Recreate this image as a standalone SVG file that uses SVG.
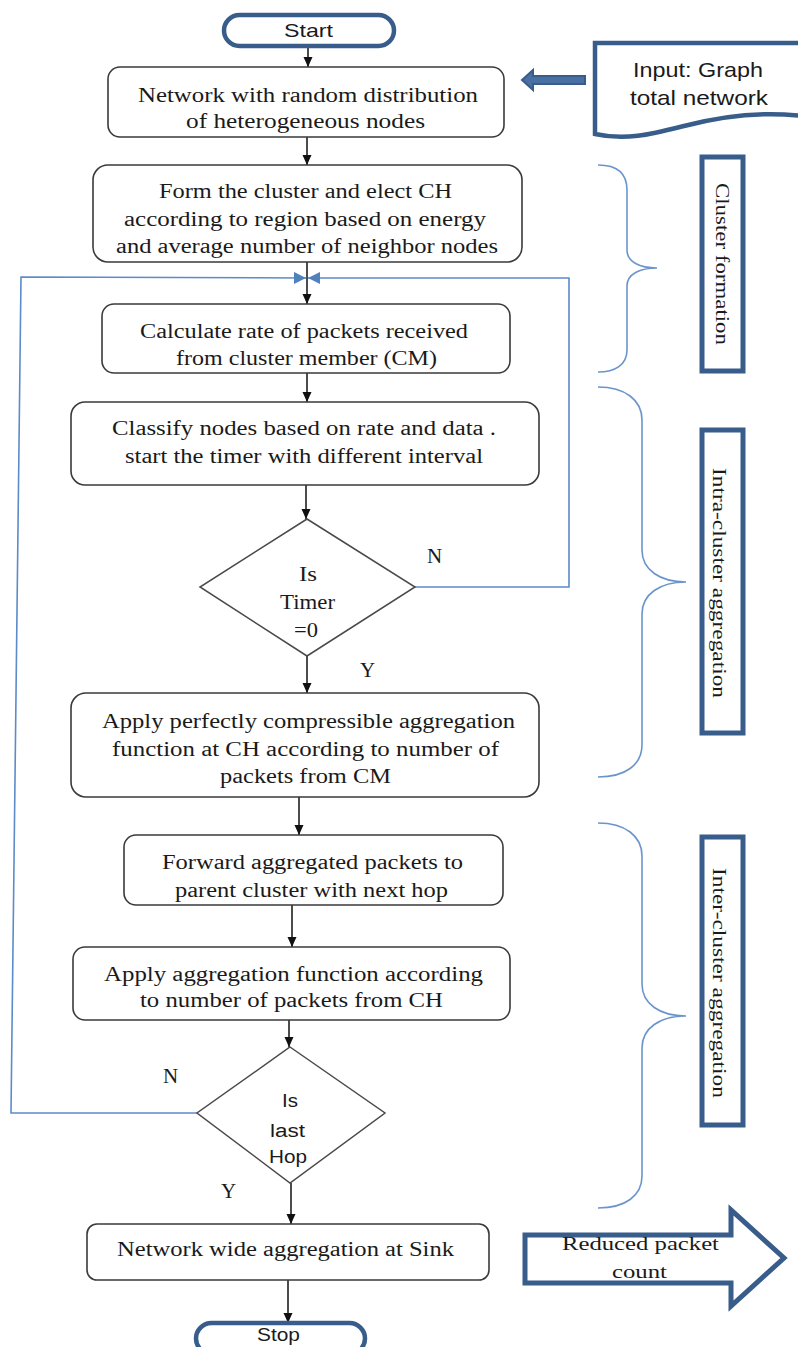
<svg xmlns="http://www.w3.org/2000/svg" width="798" height="1347" viewBox="0 0 798 1347">
<style>
.box{fill:#fff;stroke:#3a3a3a;stroke-width:1.6}
.dia{fill:#fff;stroke:#4a4a4a;stroke-width:1.5}
.term{fill:#fff;stroke:#385d8a;stroke-width:4.5}
.lbl{fill:#fff;stroke:#385d8a;stroke-width:5}
.serif{font-family:"Liberation Serif","Times New Roman",serif;font-size:20px;fill:#1a1a1a}
.sans{font-family:"Liberation Sans",Arial,sans-serif;fill:#1a1a1a}
.flow{fill:none;stroke:#111;stroke-width:1.5}
.loop{fill:none;stroke:#5b8bc9;stroke-width:1.6}
.brace{fill:none;stroke:#6a95cc;stroke-width:1.6}
</style>
<defs>
<marker id="ah" markerUnits="userSpaceOnUse" markerWidth="10" markerHeight="10" refX="10" refY="5" orient="auto" viewBox="0 0 10 10">
<path d="M0,0.5 L10,5 L0,9.5 z" fill="#111"/>
</marker>
<marker id="ahb" markerUnits="userSpaceOnUse" markerWidth="12" markerHeight="12" refX="12" refY="6" orient="auto" viewBox="0 0 12 12">
<path d="M0,0 L12,6 L0,12 z" fill="#4f81bd"/>
</marker>
</defs>
<rect width="798" height="1347" fill="#fff"/>

<g id="connectors">
<line class="flow" x1="308" y1="47" x2="308" y2="67" marker-end="url(#ah)"/>
<line class="flow" x1="307" y1="137" x2="307" y2="165" marker-end="url(#ah)"/>
<line class="flow" x1="307" y1="262" x2="307" y2="304" marker-end="url(#ah)"/>
<line class="flow" x1="307" y1="373" x2="307" y2="402" marker-end="url(#ah)"/>
<line class="flow" x1="306" y1="485" x2="306" y2="519" marker-end="url(#ah)"/>
<line class="flow" x1="307" y1="656" x2="307" y2="693" marker-end="url(#ah)"/>
<line class="flow" x1="299" y1="797" x2="299" y2="835" marker-end="url(#ah)"/>
<line class="flow" x1="292" y1="905" x2="292" y2="947" marker-end="url(#ah)"/>
<line class="flow" x1="289" y1="1020" x2="289" y2="1047" marker-end="url(#ah)"/>
<line class="flow" x1="291" y1="1183" x2="291" y2="1224" marker-end="url(#ah)"/>
<line class="flow" x1="288" y1="1280" x2="288" y2="1323" marker-end="url(#ah)"/>
<polyline class="loop" points="415,587 569,587 569,278 308,278" marker-end="url(#ahb)"/>
<polyline class="loop" points="197,1113 11,1113 21,277 306,278" marker-end="url(#ahb)"/>
<path d="M585,76 L533,76 L533,70 L522,80 L533,90 L533,84 L585,84 Z" fill="#4a6fa5" stroke="#385d8a" stroke-width="2"/>
<text class="serif" x="427" y="563" style="font-size:21px">N</text>
<text class="serif" x="360" y="677" style="font-size:21px">Y</text>
<text class="serif" x="163" y="1083" style="font-size:21px">N</text>
<text class="serif" x="221" y="1198" style="font-size:21px">Y</text>
</g>

<g id="n-start">
<rect class="term" x="224" y="15" width="170" height="31" rx="15.5"/>
<text class="sans" x="284" y="37" font-size="19" textLength="49" lengthAdjust="spacingAndGlyphs">Start</text>
</g>

<g id="n-network">
<rect class="box" x="108" y="67" width="396" height="70" rx="12"/>
<text class="serif" x="138" y="102" textLength="340" lengthAdjust="spacingAndGlyphs">Network with random distribution</text>
<text class="serif" x="186" y="128" textLength="239" lengthAdjust="spacingAndGlyphs">of heterogeneous nodes</text>
</g>

<g id="n-input">
<path d="M595,43 H802 V116 C760,111 722,116 684,126 C652,134 626,141 595,134 Z" fill="#fff" stroke="#385d8a" stroke-width="4.5"/>
<text class="sans" x="633" y="77" font-size="21" textLength="130" lengthAdjust="spacingAndGlyphs">Input: Graph</text>
<text class="sans" x="630" y="105" font-size="21" textLength="138" lengthAdjust="spacingAndGlyphs">total network</text>
</g>

<g id="n-form">
<rect class="box" x="93" y="165" width="429" height="97" rx="15"/>
<text class="serif" x="159" y="198" textLength="293" lengthAdjust="spacingAndGlyphs">Form the cluster and elect CH</text>
<text class="serif" x="124" y="226" textLength="362" lengthAdjust="spacingAndGlyphs">according to region  based on energy</text>
<text class="serif" x="116" y="253" textLength="382" lengthAdjust="spacingAndGlyphs">and average number of neighbor nodes</text>
</g>

<g id="n-calc">
<rect class="box" x="102" y="304" width="408" height="69" rx="12"/>
<text class="serif" x="140" y="338" textLength="328" lengthAdjust="spacingAndGlyphs">Calculate rate of packets received</text>
<text class="serif" x="176" y="365" textLength="261" lengthAdjust="spacingAndGlyphs">from cluster member (CM)</text>
</g>

<g id="n-classify">
<rect class="box" x="71" y="402" width="468" height="83" rx="14"/>
<text class="serif" x="112" y="435" textLength="384" lengthAdjust="spacingAndGlyphs">Classify nodes based on rate and  data .</text>
<text class="serif" x="125" y="463" textLength="358" lengthAdjust="spacingAndGlyphs">start the timer with  different interval</text>
</g>

<g id="n-timer">
<polygon class="dia" points="307,519 415,587 307,656 200,587"/>
<text class="serif" x="299" y="581" textLength="18" lengthAdjust="spacingAndGlyphs">Is</text>
<text class="serif" x="280" y="609" textLength="55" lengthAdjust="spacingAndGlyphs">Timer</text>
<text class="serif" x="294" y="637" textLength="24" lengthAdjust="spacingAndGlyphs">=0</text>
</g>

<g id="n-apply1">
<rect class="box" x="71" y="693" width="468" height="104" rx="15"/>
<text class="serif" x="102" y="728" textLength="413" lengthAdjust="spacingAndGlyphs">Apply perfectly compressible aggregation</text>
<text class="serif" x="112" y="756" textLength="387" lengthAdjust="spacingAndGlyphs">function at CH according to  number of</text>
<text class="serif" x="220" y="783" textLength="171" lengthAdjust="spacingAndGlyphs">packets from CM</text>
</g>

<g id="n-forward">
<rect class="box" x="124" y="835" width="379" height="70" rx="12"/>
<text class="serif" x="162" y="869" textLength="301" lengthAdjust="spacingAndGlyphs">Forward aggregated packets to</text>
<text class="serif" x="175" y="897" textLength="273" lengthAdjust="spacingAndGlyphs">parent cluster with next hop</text>
</g>

<g id="n-apply2">
<rect class="box" x="73" y="947" width="437" height="73" rx="12"/>
<text class="serif" x="104" y="981" textLength="379" lengthAdjust="spacingAndGlyphs">Apply aggregation function  according</text>
<text class="serif" x="140" y="1007" textLength="303" lengthAdjust="spacingAndGlyphs">to  number of packets from CH</text>
</g>

<g id="n-lasthop">
<polygon class="dia" points="290,1047 385,1113 290,1183 197,1113"/>
<text class="sans" x="282" y="1107" font-size="18" textLength="16" lengthAdjust="spacingAndGlyphs">Is</text>
<text class="sans" x="270" y="1137" font-size="18" textLength="35" lengthAdjust="spacingAndGlyphs">last</text>
<text class="sans" x="269" y="1163" font-size="18" textLength="38" lengthAdjust="spacingAndGlyphs">Hop</text>
</g>

<g id="n-sink">
<rect class="box" x="87" y="1224" width="402" height="56" rx="10"/>
<text class="serif" x="117" y="1256" textLength="337" lengthAdjust="spacingAndGlyphs">Network wide aggregation  at Sink</text>
</g>

<g id="n-stop">
<rect class="term" x="196" y="1323" width="169" height="31" rx="15.5"/>
<text class="sans" x="257" y="1341" font-size="19" textLength="43" lengthAdjust="spacingAndGlyphs">Stop</text>
</g>

<g id="n-reduced">
<path d="M525,1235 H731 V1210 L784,1258 L731,1306 V1283 H525 Z" fill="#fff" stroke="#385d8a" stroke-width="5" stroke-linejoin="miter"/>
<text class="serif" x="562" y="1250" font-size="19" style="font-size:19px" textLength="157" lengthAdjust="spacingAndGlyphs">Reduced packet</text>
<text class="serif" x="612" y="1278" style="font-size:19px" textLength="55" lengthAdjust="spacingAndGlyphs">count</text>
</g>

<g id="n-cluster-formation">
<path class="brace" d="M598,165 C615,165 627,172 627,190 V250 C627,262 640,268 657,268 C640,268 627,274 627,286 V350 C627,365 615,372 598,372"/>
<rect class="lbl" x="702" y="157" width="41" height="214"/>
<text class="serif" transform="translate(716,183) rotate(90)" x="0" y="0" style="font-size:19px" textLength="162" lengthAdjust="spacingAndGlyphs">Cluster formation</text>
</g>

<g id="n-intra">
<path class="brace" d="M598,387 C625,387 642,400 642,420 V550 C642,570 660,582 686,582 C660,582 642,594 642,614 V745 C642,765 625,777 598,777"/>
<rect class="lbl" x="702" y="430" width="41" height="303"/>
<text class="serif" transform="translate(713,468) rotate(90)" x="0" y="0" style="font-size:19px" textLength="230" lengthAdjust="spacingAndGlyphs">Intra-cluster  aggregation</text>
</g>

<g id="n-inter">
<path class="brace" d="M598,823 C625,823 642,836 642,856 V984 C642,1004 660,1016 686,1016 C660,1016 642,1028 642,1048 V1176 C642,1196 625,1208 598,1208"/>
<rect class="lbl" x="702" y="837" width="41" height="288"/>
<text class="serif" transform="translate(713,868) rotate(90)" x="0" y="0" style="font-size:19px" textLength="230" lengthAdjust="spacingAndGlyphs">Inter-cluster  aggregation</text>
</g>
</svg>
